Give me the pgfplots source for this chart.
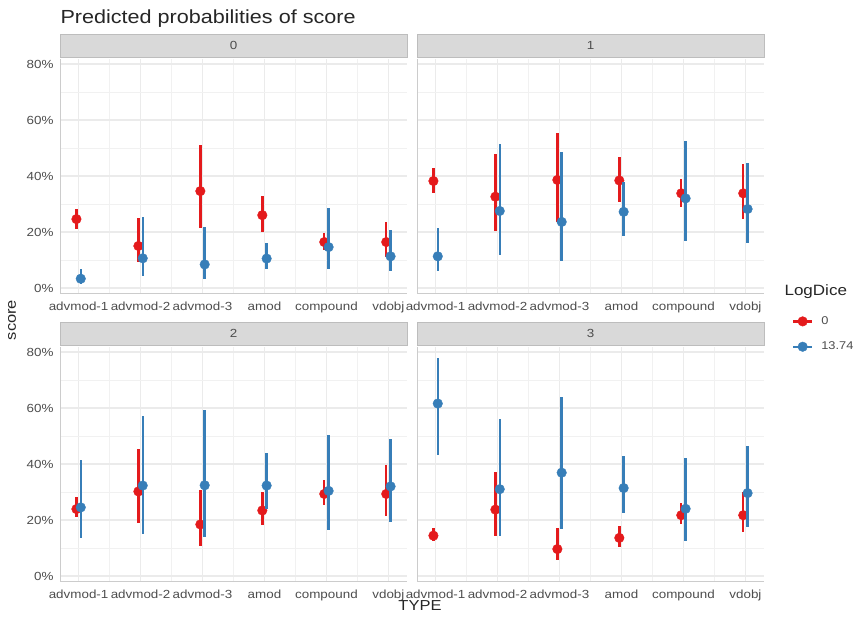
\documentclass[border=0pt]{standalone}
\usepackage{pgfplots}
\usepackage{pgfplotstable}
\pgfplotsset{compat=1.18}
\usepackage{fontspec}
\setmainfont[FakeStretch=1.14]{Liberation Sans}
\definecolor{setred}{HTML}{E41A1C}
\definecolor{setblue}{HTML}{377EB8}
\definecolor{gridc}{HTML}{EBEBEB}
\definecolor{txt}{HTML}{4D4D4D}
\definecolor{stripfill}{HTML}{D9D9D9}
\definecolor{stripdraw}{HTML}{BDBDBD}
\definecolor{axc}{HTML}{CCCCCC}

% panel 0
\pgfplotstableread{
x y lo hi
1 24.6 21.0 28.2
2 15.0 9.3 25.0
3 34.6 21.4 51.0
4 26.0 20.0 33.0
5 16.4 13.5 19.8
6 16.4 11.1 23.4
}\pzr
\pgfplotstableread{
x y lo hi
1 3.3 1.5 6.6
2 10.6 4.3 25.2
3 8.4 3.2 21.8
4 10.5 6.7 16.1
5 14.6 6.9 28.7
6 11.3 6.1 20.7
}\pzb
% panel 1
\pgfplotstableread{
x y lo hi
1 38.2 33.8 42.7
2 32.6 20.3 47.8
3 38.6 23.6 55.3
4 38.4 30.8 46.7
5 33.8 29.0 38.9
6 33.8 24.6 44.3
}\por
\pgfplotstableread{
x y lo hi
1 11.3 6.0 21.5
2 27.5 11.9 51.5
3 23.6 9.6 48.4
4 27.2 18.6 38.0
5 32.0 16.8 52.5
6 28.2 16.2 44.5
}\pob
% panel 2
\pgfplotstableread{
x y lo hi
1 23.9 21.2 28.1
2 30.2 18.8 45.5
3 18.4 10.8 30.7
4 23.4 18.2 30.1
5 29.3 25.3 34.2
6 29.3 21.5 39.5
}\ptr
\pgfplotstableread{
x y lo hi
1 24.5 13.7 41.4
2 32.3 15.0 57.1
3 32.4 14.0 59.2
4 32.3 23.8 43.8
5 30.4 16.4 50.5
6 32.0 19.4 49.0
}\ptb
% panel 3
\pgfplotstableread{
x y lo hi
1 14.4 12.5 17.0
2 23.7 14.4 37.2
3 9.6 5.7 17.0
4 13.6 10.2 18.0
5 21.7 18.5 25.9
6 21.7 15.6 30.1
}\pthr
\pgfplotstableread{
x y lo hi
1 61.6 43.2 77.9
2 31.0 14.4 55.9
3 36.9 16.8 64.0
4 31.4 22.4 42.9
5 24.0 12.6 42.3
6 29.6 17.6 46.4
}\pthb

\pgfplotsset{
  panel/.style={
    scale only axis, width=347bp, height=234bp, anchor=south west,
    xmin=0.7, xmax=6.3, ymin=-1.8, ymax=81.8,
    xtick={1,2,3,4,5,6},
    xticklabels={advmod-1,advmod-2,advmod-3,amod,compound,vdobj},
    ytick={0,20,40,60,80},
    yticklabels={0\%,20\%,40\%,60\%,80\%},
    minor xtick={1.5,2.5,3.5,4.5,5.5},
    minor ytick={10,30,50,70},
    grid=both,
    major grid style={draw=gridc, line width=1.1bp},
    minor grid style={draw=gridc!70!white, line width=0.6bp},
    major tick length=0pt, minor tick length=0pt,
    axis line style={draw=none},
    tick label style={font=\fontsize{11.8}{13}\selectfont, text=txt},
    xticklabel style={yshift=-5bp},
    yticklabel style={xshift=-3bp},
    clip mode=individual,
    after end axis/.code={
      \draw[axc, line width=0.9bp] (rel axis cs:0,1) -- (rel axis cs:0,0) -- (rel axis cs:1,0);
      \path[fill=stripfill, draw=stripdraw, line width=0.8bp]
        ([yshift=1.5bp]rel axis cs:0,1) rectangle ([yshift=25bp]rel axis cs:1,1);
      \node[font=\fontsize{11.8}{13}\selectfont, text=txt] at ([yshift=13.25bp]rel axis cs:0.5,1) {#1};
    },
  },
  redser/.style={color=setred, mark=*, mark size=4.8bp, only marks,
    error bars/y dir=both, error bars/y explicit, error bars/error mark=none,
    error bars/error bar style={line width=2.4bp, setred}},
  blueser/.style={color=setblue, mark=*, mark size=4.8bp, only marks,
    error bars/y dir=both, error bars/y explicit, error bars/error mark=none,
    error bars/error bar style={line width=2.4bp, setblue}},
  legimg/.style={legend image code/.code={
      \draw[line width=2.4bp] (0bp,0bp) -- (19bp,0bp);
      \fill (9.5bp,0bp) circle (4.8bp);}},
}

\begin{document}
\begin{tikzpicture}
\useasboundingbox (0,0) rectangle (859bp,621bp);

% panel 0
\begin{axis}[panel={0}, at={(60bp,328bp)}]
\addplot[redser] table[x expr=\thisrow{x}-0.035, y=y,
   y error plus expr=\thisrow{hi}-\thisrow{y},
   y error minus expr=\thisrow{y}-\thisrow{lo}] {\pzr};
\addplot[blueser] table[x expr=\thisrow{x}+0.035, y=y,
   y error plus expr=\thisrow{hi}-\thisrow{y},
   y error minus expr=\thisrow{y}-\thisrow{lo}] {\pzb};
\end{axis}

% panel 1
\begin{axis}[panel={1}, at={(417bp,328bp)}, yticklabels={},
  legend style={at={(1.08,-0.092)}, anchor=north west, draw=none, fill=none,
    font=\fontsize{11.3}{13}\selectfont, text=txt, row sep=12bp,
    inner sep=0pt, nodes={inner sep=2pt}},
  legend cell align=left]
\addplot[redser, legimg] table[x expr=\thisrow{x}-0.035, y=y,
   y error plus expr=\thisrow{hi}-\thisrow{y},
   y error minus expr=\thisrow{y}-\thisrow{lo}] {\por};
\addlegendentry{\hspace{6bp}0}
\addplot[blueser, legimg] table[x expr=\thisrow{x}+0.035, y=y,
   y error plus expr=\thisrow{hi}-\thisrow{y},
   y error minus expr=\thisrow{y}-\thisrow{lo}] {\pob};
\addlegendentry{\hspace{6bp}13.74}
\end{axis}

% panel 2
\begin{axis}[panel={2}, at={(60bp,40bp)}]
\addplot[redser] table[x expr=\thisrow{x}-0.035, y=y,
   y error plus expr=\thisrow{hi}-\thisrow{y},
   y error minus expr=\thisrow{y}-\thisrow{lo}] {\ptr};
\addplot[blueser] table[x expr=\thisrow{x}+0.035, y=y,
   y error plus expr=\thisrow{hi}-\thisrow{y},
   y error minus expr=\thisrow{y}-\thisrow{lo}] {\ptb};
\end{axis}

% panel 3
\begin{axis}[panel={3}, at={(417bp,40bp)}, yticklabels={}]
\addplot[redser] table[x expr=\thisrow{x}-0.035, y=y,
   y error plus expr=\thisrow{hi}-\thisrow{y},
   y error minus expr=\thisrow{y}-\thisrow{lo}] {\pthr};
\addplot[blueser] table[x expr=\thisrow{x}+0.035, y=y,
   y error plus expr=\thisrow{hi}-\thisrow{y},
   y error minus expr=\thisrow{y}-\thisrow{lo}] {\pthb};
\end{axis}

% titles
\node[anchor=base west, font=\fontsize{19}{22}\selectfont, text=black!85] at (57bp,597bp) {Predicted probabilities of score};
\node[font=\fontsize{14.5}{16}\selectfont, text=black!85, rotate=90] at (12bp,301bp) {score};
\node[font=\fontsize{14.5}{16}\selectfont, text=black!85] at (420bp,15bp) {TYPE};
\node[anchor=west, font=\fontsize{15}{16}\selectfont, text=black!85] at (781bp,329bp) {LogDice};
\end{tikzpicture}
\end{document}
